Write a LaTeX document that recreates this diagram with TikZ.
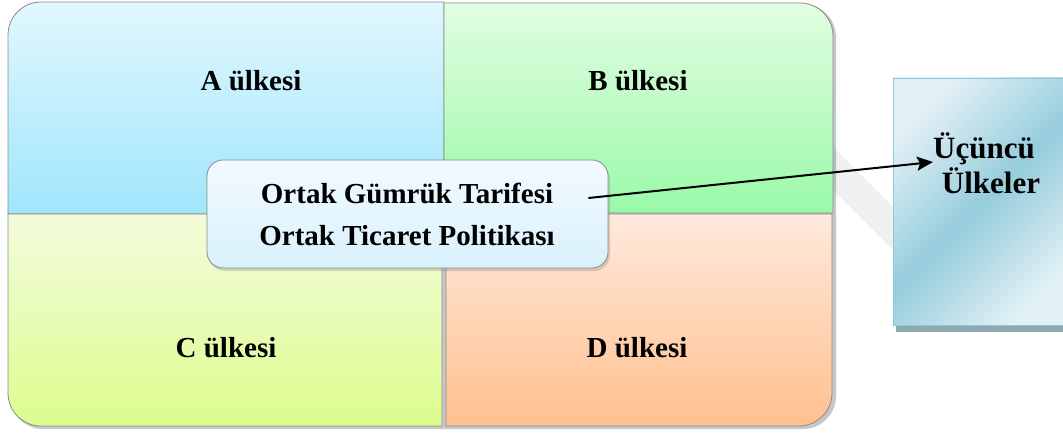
\documentclass[tikz,border=0pt]{standalone}
\usepackage{fontspec}
\setmainfont{Liberation Serif}
\usetikzlibrary{arrows.meta, shadows}

\definecolor{aUst}{HTML}{E2F7FE}
\definecolor{aAlt}{HTML}{9FE6FB}
\definecolor{bUst}{HTML}{E2FDE2}
\definecolor{bAlt}{HTML}{9AF9A8}
\definecolor{cUst}{HTML}{F3FCDA}
\definecolor{cAlt}{HTML}{DCFC8E}
\definecolor{dUst}{HTML}{FFE9DC}
\definecolor{dAlt}{HTML}{FFC08E}
\definecolor{oUst}{HTML}{F2FAFF}
\definecolor{oAlt}{HTML}{D9F1FC}
\definecolor{uAcik}{HTML}{E2F1F6}
\definecolor{uKoyu}{HTML}{96CCDC}
\definecolor{uCizgi}{HTML}{8CC8DA}
\definecolor{uGolge}{HTML}{8FA9B0}
\definecolor{cizgi}{HTML}{8A8A8A}

\tikzset{
  kutu/.style={draw=cizgi, line width=0.8pt},
  golge/.style={fill=black, opacity=0.22},
  etiket/.style={anchor=base, inner sep=0.75pt, font=\fontsize{29}{35}\selectfont\bfseries},
  buyuk/.style={anchor=base, inner sep=0.75pt, font=\fontsize{31}{36}\selectfont\bfseries},
  orta/.style={kutu, rounded corners=16, minimum width=401, minimum height=108,
    top color=oUst, bottom color=oAlt,
    drop shadow={shadow xshift=2pt, shadow yshift=-3pt, opacity=0.3}},
  disKutu/.style={draw=uCizgi, line width=0.8pt, minimum width=182, minimum height=247,
    left color=uAcik, right color=uAcik, middle color=uKoyu, shading angle=45},
}

\begin{document}
\begin{tikzpicture}[x=1pt, y=1pt]
\useasboundingbox (0,0) rectangle (1063,432);
% band
\fill[gray!12] (800,318) -- (893,225) -- (893,182) -- (800,275) -- cycle;
% shadow of the grid
\fill[golge, rounded corners=33] (10,3) rectangle (836,428);
% quadrants
\draw[kutu, top color=aUst, bottom color=aAlt] (8,218) -- (8,397) arc[start angle=180, end angle=90, radius=33] -- (444,430) -- (444,218) -- cycle;
\draw[kutu, top color=bUst, bottom color=bAlt] (444,219) -- (444,429) -- (800,429) arc[start angle=90, end angle=0, radius=33] -- (833,219) -- cycle;
\draw[kutu, top color=cUst, bottom color=cAlt] (8,218) -- (442,218) -- (442,6) -- (41,6) arc[start angle=270, end angle=180, radius=33] -- cycle;
\draw[kutu, top color=dUst, bottom color=dAlt] (446,218) -- (832,218) -- (832,39) arc[start angle=0, end angle=-90, radius=33] -- (446,6) -- cycle;
%Text
\node[etiket] (a) at (251,341) {A ülkesi};
\node[etiket] (b) at (638,341) {B ülkesi};
\node[etiket] (c) at (226,75) {C ülkesi};
\node[etiket] (d) at (637,75) {D ülkesi};
% center box
\node[orta] (ortak) at (407.5,218) {};
\node[etiket] (gumruk) at (407,229) {Ortak Gümrük Tarifesi};
\node[etiket] (ticaret) at (407,187) {Ortak Ticaret Politikası};
% third countries
\fill[uGolge] (896,100) rectangle (1075,110);
\node[disKutu] (ulke) at (984,230.5) {};
\node[buyuk] (ucuncu) at (984,274) {Üçüncü};
\node[buyuk] (ulkeler) at (991,239) {Ülkeler};
% arrow
\coordinate (kaynak) at ([xshift=-20pt, yshift=16pt]ortak.east);
\coordinate (hedef) at (933,270);
\draw[-{Stealth[length=16pt, width=14pt, inset=3pt]}, line width=2pt] (kaynak) -- (hedef);
\end{tikzpicture}
\end{document}
